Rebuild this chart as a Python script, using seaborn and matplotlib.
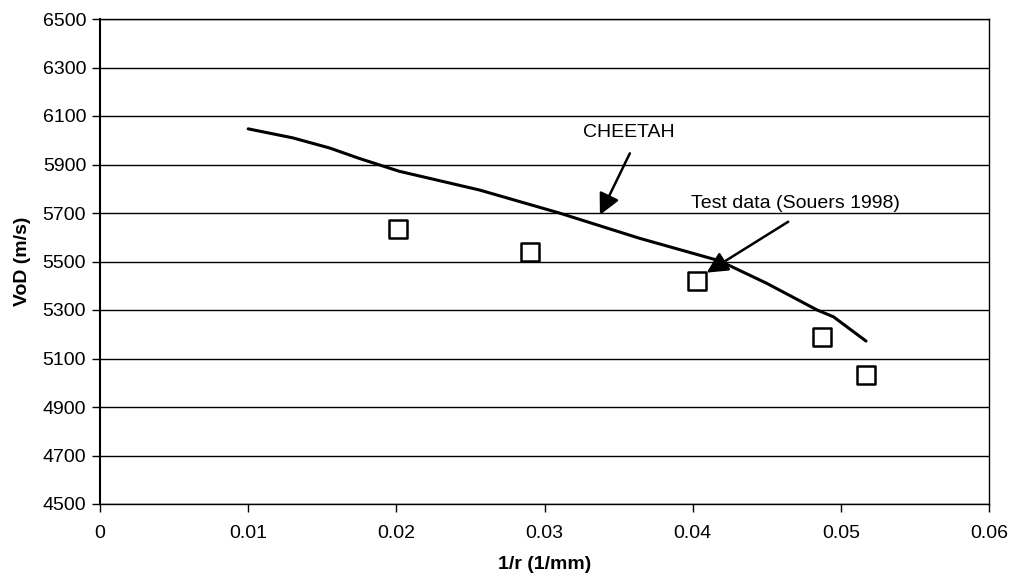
import matplotlib
matplotlib.use("Agg")
import matplotlib.pyplot as plt
import seaborn as sns
import pandas as pd

# CHEETAH model curve
cheetah_x = [0.0100, 0.0130, 0.0155, 0.0175, 0.0202, 0.0256, 0.0310, 0.0364,
             0.0418, 0.0450, 0.0484, 0.0495, 0.0517]
cheetah_y = [6047, 6010, 5968, 5925, 5872, 5795, 5700, 5596,
             5503, 5410, 5300, 5272, 5172]

# Test data (Souers 1998)
test_x = [0.0201, 0.0290, 0.0403, 0.0487, 0.0517]
test_y = [5633, 5540, 5420, 5190, 5034]

x_ticks = [0, 0.01, 0.02, 0.03, 0.04, 0.05, 0.06]
x_tick_labels = ["0", "0.01", "0.02", "0.03", "0.04", "0.05", "0.06"]
y_ticks = list(range(4500, 6501, 200))

x_label = "1/r (1/mm)"
y_label = "VoD (m/s)"
label_cheetah = "CHEETAH"
label_test = "Test data (Souers 1998)"

sns.set_theme(style="white")
plt.rcParams['font.family'] = ['Liberation Sans', 'DejaVu Sans']
plt.rcParams['text.color'] = 'black'
plt.rcParams['axes.labelcolor'] = 'black'

fig = plt.figure(figsize=(10.11, 5.78), dpi=100)
ax = fig.add_axes([100/1011, 1 - 504/578, (989-100)/1011, (504-19)/578])

df_c = pd.DataFrame({"x": cheetah_x, "y": cheetah_y})
df_t = pd.DataFrame({"x": test_x, "y": test_y})

sns.lineplot(data=df_c, x="x", y="y", ax=ax, color="black", linewidth=2.2,
             sort=False, zorder=3)
sns.scatterplot(data=df_t, x="x", y="y", ax=ax, marker="s", s=180,
                facecolor="white", edgecolor="black", linewidth=1.8, zorder=4)

ax.set_xlim(0, 0.06)
ax.set_ylim(4500, 6500)
ax.set_xticks(x_ticks)
ax.set_xticklabels(x_tick_labels)
ax.set_yticks(y_ticks)
ax.yaxis.grid(True, color="black", linewidth=1.0)
ax.xaxis.grid(False)
ax.set_axisbelow(True)

for sp in ax.spines.values():
    sp.set_color("black")
    sp.set_linewidth(1.0)
ax.spines['left'].set_linewidth(1.5)

ax.tick_params(axis="both", which="major", direction="out", length=6, width=1,
               color="black", labelsize=14, labelcolor="black",
               bottom=True, left=True)
ax.tick_params(axis="x", pad=9)
ax.tick_params(axis="y", pad=4)

ax.set_xlabel(x_label, fontsize=14, fontweight="bold", labelpad=10, color="black")
ax.set_ylabel(y_label, fontsize=14, fontweight="bold", labelpad=8, color="black")

# annotations
ax.text(0.0357, 6034, label_cheetah, fontsize=14, ha="center", va="center",
        color="black")
ax.annotate("", xy=(0.03374, 5692), xytext=(0.03576, 5946),
            arrowprops=dict(arrowstyle="-|>", color="black", lw=1.8,
                            mutation_scale=32, shrinkA=0, shrinkB=0))
ax.text(0.0399, 5741, label_test, fontsize=14, ha="left", va="center",
        color="black")
ax.annotate("", xy=(0.04094, 5454), xytext=(0.04645, 5664),
            arrowprops=dict(arrowstyle="-|>", color="black", lw=1.8,
                            mutation_scale=32, shrinkA=0, shrinkB=0))

fig.savefig("out.png", dpi=100)
